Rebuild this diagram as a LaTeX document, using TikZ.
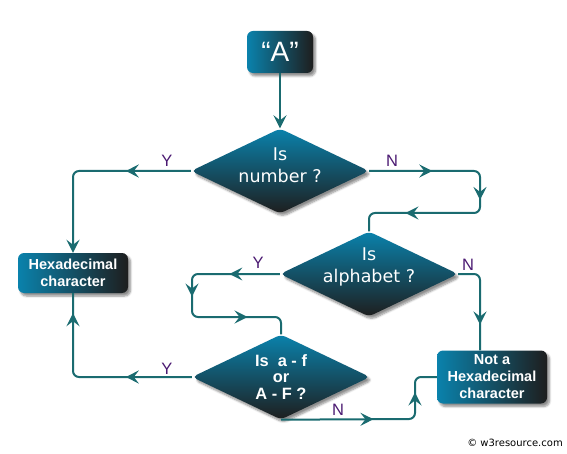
\documentclass[tikz,border=0pt]{standalone}
\usepackage{fontspec}
\setmainfont{Liberation Sans}
\newfontfamily\dejavu{DejaVu Sans}
\usetikzlibrary{arrows.meta,positioning,shapes.geometric,shadows.blur,decorations.markings}
\definecolor{cLine}{HTML}{1A6B70}
\definecolor{cBlue}{HTML}{0A82AC}
\definecolor{cDark}{HTML}{1E1E1E}
\definecolor{cLbl}{HTML}{4B1A72}
\tikzset{
  tipA/.tip={Stealth[length=13pt, width=13pt, inset=5pt]},
  shd/.style={blur shadow={shadow xshift=2.5pt, shadow yshift=-3pt, shadow blur steps=6, shadow opacity=45}},
  boxblk/.style={shd, rounded corners=6pt, left color=cBlue, right color=cDark, text=white,
              inner sep=0pt, align=center, font=\bfseries\fontsize{14.5}{17}\selectfont},
  startblk/.style={boxblk, minimum width=66pt, minimum height=42pt, font=\fontsize{28}{30}\selectfont},
  decblk/.style={shd, diamond, shape aspect=2.1, minimum width=178pt, minimum height=85pt,
              inner sep=0pt, rounded corners=5pt, top color=cBlue, bottom color=cDark, text=white,
              align=center, font=\dejavu\fontsize{17.5}{22}\selectfont},
  dectxt/.style={text=white, inner sep=0pt, align=center, font=\dejavu\fontsize{17.5}{22}\selectfont},
  conn/.style={draw=cLine, line width=2pt, rounded corners=6pt},
  ma/.style={postaction={decorate, decoration={markings, mark=at position #1 with {\arrow[cLine]{tipA}}}}},
  yn/.style={font=\fontsize{16.5}{18}\selectfont, text=cLbl, inner sep=0pt}
}

\begin{document}
\begin{tikzpicture}[x=1pt, y=-1pt]
\useasboundingbox (0,0) rectangle (567,454);
% nodes
\node[startblk] (start) at (280,52) {“A”};
\node[decblk] (isnum) at (280,171) {};
\node[dectxt] (isnumtxt) at ([yshift=6pt]isnum.center) {Is\\number ?};
\node[decblk] (isalpha) at (369,274) {};
\node[dectxt] (isalphatxt) at ([yshift=7pt]isalpha.center) {Is\\alphabet ?};
\node[decblk, font=\bfseries\fontsize{16.4}{16.8}\selectfont] (isaf) at (281,377) {Is\ \ a - f\\or\\A - F ?};
\node[boxblk, minimum width=110pt, minimum height=40pt] (hex) at (73,273) {Hexadecimal\\character};
\node[boxblk, minimum width=110pt, minimum height=53pt] (nothex) at (492,377) {Not a\\Hexadecimal\\character};
\coordinate (r1) at (480,213);
\coordinate (l1) at (192,317);
\coordinate (b1) at (415,419);
% connectors
\draw[conn, -{tipA[cLine]}] (start) -- (isnum);
\draw[conn, ma=0.33, -{tipA[cLine]}] (isnum.west) -| (hex.north);
\draw[conn, ma=0.23, ma=0.50, ma=0.81] (isnum.east) -| (r1) -| (isalpha.north);
\draw[conn, ma=0.22, ma=0.47, ma=0.79] (isalpha.west) -| (l1) -| (isaf.north);
\draw[conn, ma=0.73] (isalpha.east) -| (nothex.north -| r1);
\draw[conn, ma=0.48, ma=0.82] (isaf.south) -- (b1) |- (nothex.west);
\draw[conn, ma=0.33, ma=0.90] (isaf.west) -| (hex.south);
% labels
\node[yn] (y1) at (167,161) {Y};
\node[yn] (n1) at (392,161) {N};
\node[yn] (y2) at (258,263) {Y};
\node[yn] (n2) at (468,265) {N};
\node[yn] (y3) at (167,369) {Y};
\node[yn] (n3) at (338,410) {N};
\node[font=\dejavu\fontsize{10}{12}\selectfont, inner sep=0pt] (copy) at (515,443) {© w3resource.com};
\end{tikzpicture}
\end{document}
